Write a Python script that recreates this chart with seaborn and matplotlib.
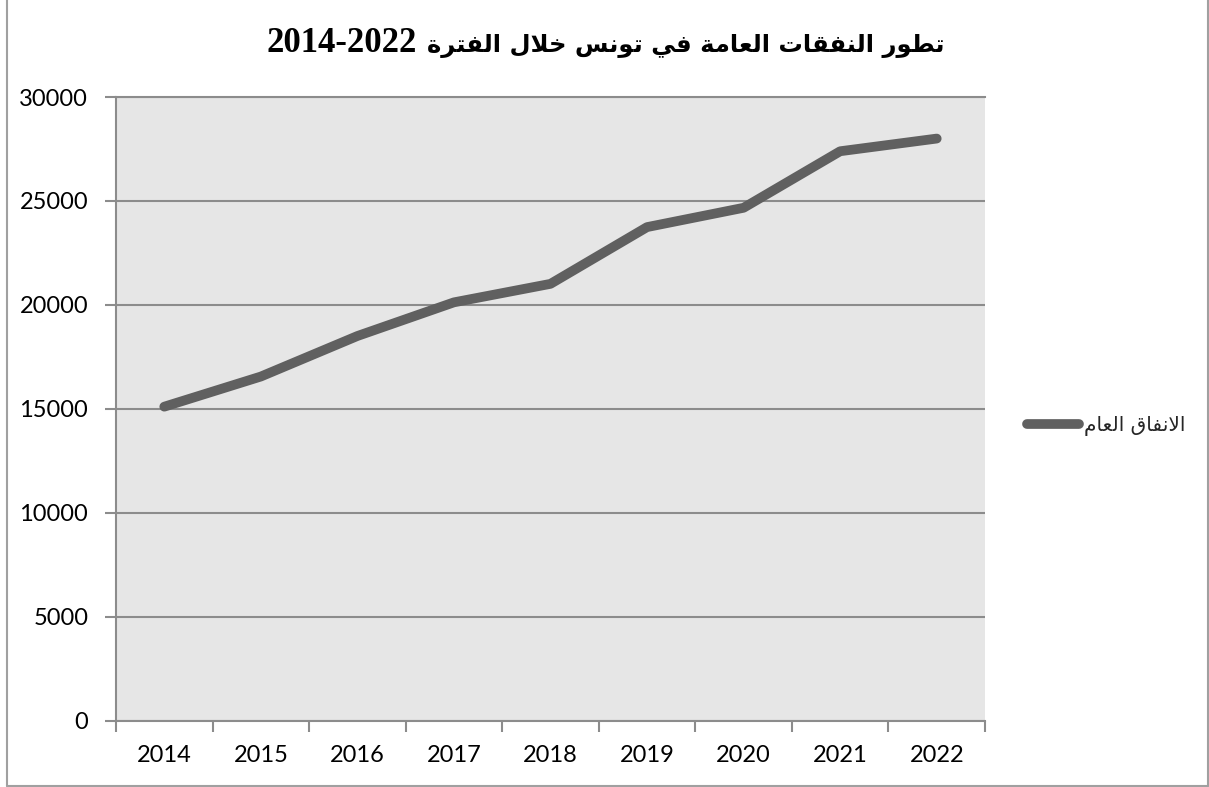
import numpy as np
import pandas as pd
import matplotlib
matplotlib.use("Agg")
import matplotlib.pyplot as plt
from matplotlib.lines import Line2D
import seaborn as sns

# Public spending in Tunisia, 2014-2022
years = ["2014", "2015", "2016", "2017", "2018", "2019", "2020", "2021", "2022"]
spending = [15100, 16550, 18500, 20120, 21010, 23740, 24670, 27390, 28000]
y_ticks = [0, 5000, 10000, 15000, 20000, 25000, 30000]

title_ar = "تطور النفقات العامة في تونس خلال الفترة"
title_period = "2014-2022"
series_label = "الانفاق العام"

# Arabic presentation forms: base code point (isolated form) and whether the
# letter also joins to the following letter.
LETTERS = {
    "ا": (0xFE8D, False), "ة": (0xFE93, False), "ت": (0xFE95, True),
    "خ": (0xFEA5, True), "ر": (0xFEAD, False), "س": (0xFEB1, True),
    "ط": (0xFEC1, True), "ع": (0xFEC9, True), "ف": (0xFED1, True),
    "ق": (0xFED5, True), "ل": (0xFEDD, True), "م": (0xFEE1, True),
    "ن": (0xFEE5, True), "و": (0xFEED, False), "ي": (0xFEF1, True),
}
LAM_ALEF = (0xFEFB, False)


def shape_word(word):
    units = []
    i = 0
    while i < len(word):
        if word[i] == "ل" and i + 1 < len(word) and word[i + 1] == "ا":
            units.append(LAM_ALEF)
            i += 2
        else:
            units.append(LETTERS[word[i]])
            i += 1
    out = []
    for k, (base, dual) in enumerate(units):
        joins_prev = k > 0 and units[k - 1][1]
        joins_next = dual and k + 1 < len(units)
        if joins_prev and joins_next:
            off = 3
        elif joins_prev:
            off = 1
        elif joins_next:
            off = 2
        else:
            off = 0
        out.append(chr(base + off))
    return "".join(out)


def rtl(text):
    """Shape Arabic text and put it in left-to-right visual order."""
    return " ".join(shape_word(w)[::-1] for w in reversed(text.split(" ")))


sns.set_style("white")
plt.rcParams["font.family"] = ["Lato", "DejaVu Sans"]

W, H = 1209, 787
fig = plt.figure(figsize=(W / 100, H / 100), dpi=100)
ax = fig.add_axes([116 / W, 1 - 720.5 / H, (985 - 116) / W, (720.5 - 97) / H])

grid_col = "#8c8c8c"
ax.set_facecolor("#e6e6e6")

df = pd.DataFrame({"year": years, "spending": spending})
sns.lineplot(data=df, x="year", y="spending", ax=ax, color="#606060",
             linewidth=7, label=rtl(series_label), zorder=3)
for ln in ax.get_lines():
    ln.set_solid_capstyle("round")
    ln.set_solid_joinstyle("round")

ax.set_xlim(-0.5, len(years) - 0.5)
ax.set_ylim(y_ticks[0], y_ticks[-1])
ax.set_xticks(range(len(years)), labels=years)
ax.set_xticks(np.arange(len(years) + 1) - 0.5, minor=True)
ax.set_yticks(y_ticks, labels=[str(v) for v in y_ticks])
ax.set_xlabel("")
ax.set_ylabel("")

ax.yaxis.grid(True, color=grid_col, linewidth=1.5)
ax.xaxis.grid(False)
ax.set_axisbelow(True)

ax.tick_params(axis="x", which="major", length=0, pad=18, labelsize=17,
               labelcolor="black")
ax.tick_params(axis="x", which="minor", length=8, width=1.5, color=grid_col,
               direction="out", bottom=True)
ax.tick_params(axis="y", which="major", length=8, width=1.5, color=grid_col,
               direction="out", left=True, pad=12, labelsize=17,
               labelcolor="black")

for side in ["left", "bottom", "top"]:
    ax.spines[side].set_visible(True)
    ax.spines[side].set_color(grid_col)
    ax.spines[side].set_linewidth(1.5)
ax.spines["right"].set_visible(False)

ax.legend(loc="center left", bbox_to_anchor=(1027 / W, 1 - 426 / H),
          bbox_transform=fig.transFigure, frameon=False,
          prop={"family": ["DejaVu Sans"], "size": 14.5},
          handlelength=2.6, handletextpad=0.25, borderpad=0,
          borderaxespad=0)

# Title: period in a serif face, Arabic wording to its right
title_y = 1 - 52 / H
fig.text(417 / W, title_y, title_period, ha="right", va="baseline",
         fontsize=25, fontweight="bold", family=["Liberation Serif"],
         color="black")
fig.text(427 / W, title_y, rtl(title_ar), ha="left", va="baseline",
         fontsize=17.5, fontweight="bold", family=["DejaVu Sans"],
         color="black")

# Outer frame of the chart area
border = "#a0a0a0"
for xs, ys in [((6.5, 6.5), (-5, 786)), ((6.5, 1207.5), (786, 786)),
               ((1207.5, 1207.5), (-5, 786))]:
    fig.add_artist(Line2D([x / W for x in xs], [1 - y / H for y in ys],
                          color=border, linewidth=1.5))

fig.savefig("out.png", dpi=100)
